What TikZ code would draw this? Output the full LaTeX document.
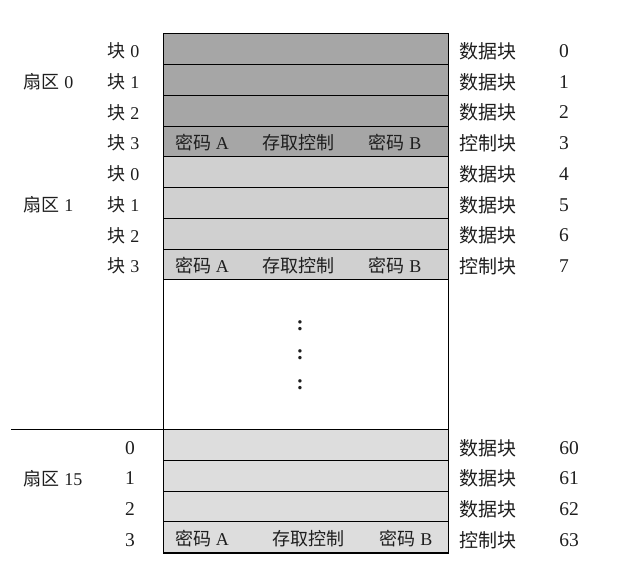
\documentclass[tikz,border=0pt]{standalone}
\usepackage{fontspec}
\setmainfont{Liberation Serif}
\newfontfamily\cjk{Noto Sans CJK SC}
\definecolor{darkrow}{HTML}{A6A6A6}
\definecolor{midrow}{HTML}{D0D0D0}
\definecolor{lightrow}{HTML}{DDDDDD}
\definecolor{ink}{HTML}{1E1E1E}
\begin{document}
\begin{tikzpicture}[x=1pt,y=-1pt,
  rowbox/.style={draw=black,line width=0.9pt,minimum width=285pt,minimum height=30.7pt,inner sep=0pt,anchor=north west},
  lab/.style={font=\fontsize{18}{18}\selectfont,text=ink,inner sep=0pt},
  rlab/.style={font=\fontsize{19}{19}\selectfont,text=ink,inner sep=0pt},
  num/.style={font=\fontsize{19.5}{19.5}\selectfont,text=ink,inner sep=0pt},
  frame/.style={draw=black,line width=0.9pt}]
\useasboundingbox (0,0) rectangle (629,573);
% sector 0
\node[rowbox,fill=darkrow] (r0) at (163,33.3) {};
\node[rowbox,fill=darkrow] (r1) at (163,64.05) {};
\node[rowbox,fill=darkrow] (r2) at (163,94.8) {};
\node[rowbox,fill=darkrow] (r3) at (163,125.55) {};
% sector 1
\node[rowbox,fill=midrow] (r4) at (163,156.3) {};
\node[rowbox,fill=midrow] (r5) at (163,187.05) {};
\node[rowbox,fill=midrow] (r6) at (163,217.8) {};
\node[rowbox,fill=midrow] (r7) at (163,248.55) {};
% sector 15
\node[rowbox,fill=lightrow] (r60) at (163,429.3) {};
\node[rowbox,fill=lightrow] (r61) at (163,460) {};
\node[rowbox,fill=lightrow] (r62) at (163,490.7) {};
\node[rowbox,fill=lightrow] (r63) at (163,521.4) {};
% outer frame
\draw[frame] (r0.north west) -- (r63.south west);
\draw[frame] (r0.north east) -- (r63.south east);
\draw[frame] (r0.north west) -- (r0.north east);
\draw[frame] (r63.south west) -- (r63.south east);
\coordinate (lineL) at (11,429.3);
\draw[frame] (lineL) -- (r60.north west);
% control block contents
\node[lab] (a3) at (202,143) {{\cjk 密码} A};
\node[lab] (c3) at (298,143) {\cjk 存取控制};
\node[lab] (b3) at (395,143) {{\cjk 密码} B};
\node[lab] (a7) at (202,266) {{\cjk 密码} A};
\node[lab] (c7) at (298,266) {\cjk 存取控制};
\node[lab] (b7) at (395,266) {{\cjk 密码} B};
\node[lab] (a63) at (202,539) {{\cjk 密码} A};
\node[lab] (c63) at (308,539) {\cjk 存取控制};
\node[lab] (b63) at (406,539) {{\cjk 密码} B};
% dots
\node[font=\fontsize{21}{21}\selectfont\bfseries,text=ink,inner sep=0pt] (d1) at (300,326) {:};
\node[font=\fontsize{21}{21}\selectfont\bfseries,text=ink,inner sep=0pt] (d2) at (300,355) {:};
\node[font=\fontsize{21}{21}\selectfont\bfseries,text=ink,inner sep=0pt] (d3) at (300,385) {:};
% left labels
\node[lab] (s0) at (48.5,81.5) {{\cjk 扇区} 0};
\node[lab] (s1) at (48.5,204.5) {{\cjk 扇区} 1};
\node[lab] (s15) at (53,478.5) {{\cjk 扇区} 15};
\node[lab] (k0) at (123.5,51) {{\cjk 块} 0};
\node[lab] (k1) at (123.5,81.5) {{\cjk 块} 1};
\node[lab] (k2) at (123.5,112.5) {{\cjk 块} 2};
\node[lab] (k3) at (123.5,143) {{\cjk 块} 3};
\node[lab] (k4) at (123.5,174) {{\cjk 块} 0};
\node[lab] (k5) at (123.5,204.5) {{\cjk 块} 1};
\node[lab] (k6) at (123.5,235.5) {{\cjk 块} 2};
\node[lab] (k7) at (123.5,266) {{\cjk 块} 3};
\node[num] (n60) at (130,448) {0};
\node[num] (n61) at (130,478.5) {1};
\node[num] (n62) at (130,509.5) {2};
\node[num] (n63) at (130,540) {3};
% right labels
\foreach \y/\t/\n/\nx in {
  51.5/数据块/0/564, 82/数据块/1/564, 112.5/数据块/2/564, 143.5/控制块/3/564,
  174.5/数据块/4/564, 205/数据块/5/564, 235.5/数据块/6/564, 266.5/控制块/7/564,
  448/数据块/60/569, 478.5/数据块/61/569, 509.5/数据块/62/569, 540/控制块/63/569}{
  \node[rlab] (t\n) at (487.5,\y) {\cjk \t};
  \node[num] (i\n) at (\nx,\y) {\n};
}
\end{tikzpicture}
\end{document}
